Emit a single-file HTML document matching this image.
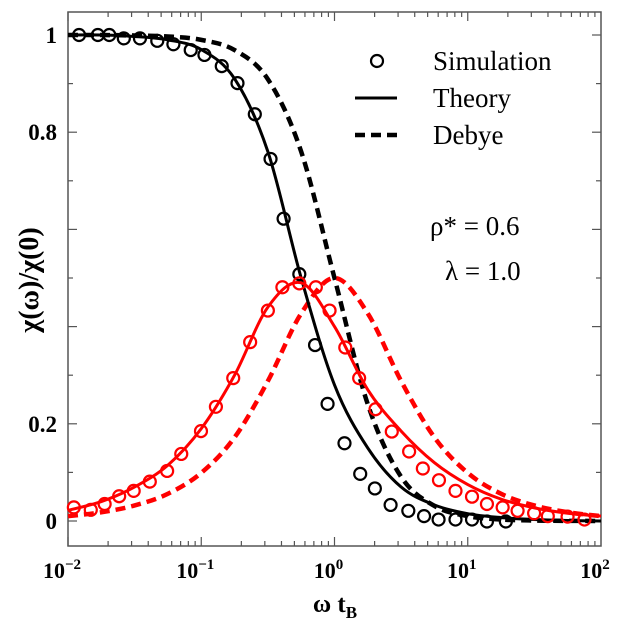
<!DOCTYPE html>
<html><head><meta charset="utf-8"><style>
body{margin:0;background:#fff}
svg{display:block;font-family:"Liberation Serif",serif}
</style></head><body>
<svg id="chart" width="618" height="622"></svg>
<script>
const simBlackLogW=[-1.917,-1.776,-1.690,-1.581,-1.460,-1.330,-1.209,-1.079,-0.976,-0.846,-0.728,-0.598,-0.480,-0.382,-0.264,-0.146,-0.052,0.075,0.193,0.303,0.421,0.554,0.672,0.781,0.908,1.032,1.144,1.286];
const simBlackVal=[1.0,1.0,1.0,0.993,0.993,0.988,0.981,0.969,0.959,0.936,0.901,0.837,0.745,0.622,0.508,0.362,0.241,0.160,0.097,0.067,0.033,0.021,0.010,0.003,0.003,0.003,-0.001,-0.001];
const simRedLogW=[-1.956,-1.829,-1.725,-1.616,-1.507,-1.386,-1.256,-1.150,-1.002,-0.890,-0.760,-0.633,-0.500,-0.391,-0.264,-0.140,-0.037,0.081,0.185,0.308,0.430,0.560,0.663,0.784,0.908,1.032,1.144,1.262,1.374,1.498,1.601,1.749,1.876];
const simRedVal=[0.028,0.023,0.035,0.051,0.062,0.081,0.103,0.138,0.185,0.235,0.294,0.368,0.433,0.481,0.489,0.481,0.433,0.357,0.294,0.230,0.184,0.143,0.108,0.084,0.062,0.050,0.035,0.028,0.021,0.016,0.010,0.009,0.003];
const curveLogW=[-2,-1.75,-1.5,-1.25,-1,-0.75,-0.5,-0.25,0,0.25,0.5,0.75,1,1.25,1.5,1.75,2];
const theoryReal=[1.0,1.0,0.997,0.99,0.97,0.91,0.76,0.50,0.28,0.15,0.07,0.033,0.015,0.007,0.003,0.001,0.0];
const theoryImag=[0.022,0.04,0.07,0.115,0.19,0.30,0.44,0.49,0.40,0.27,0.185,0.12,0.075,0.045,0.027,0.016,0.010];
const debyeReal=[1.0,1.0,0.999,0.997,0.990,0.969,0.909,0.760,0.5,0.240,0.091,0.031,0.010,0.003,0.001,0.0003,0.0001];
const debyeImag=[0.010,0.018,0.032,0.056,0.099,0.172,0.288,0.427,0.5,0.427,0.288,0.172,0.099,0.056,0.032,0.018,0.010];
const xTickLabels=["-2","-1","0","1","2"];
const yTickVals=[0,0.2,0.8,1];

const NS="http://www.w3.org/2000/svg";
const svg=document.getElementById('chart');
const L=68,R=601,T=12,B=546;
const X=lw=>L+(lw+2)/4*(R-L);
const Y=v=>521-v*486;
function el(tag,attrs,parent){const e=document.createElementNS(NS,tag);for(const k in attrs)e.setAttribute(k,attrs[k]);(parent||svg).appendChild(e);return e;}
function path(xs,ys){
  const p=xs.map((x,i)=>[X(x),Y(ys[i])]);
  let d=`M${p[0][0]},${p[0][1]}`;
  for(let i=0;i<p.length-1;i++){
    const p0=p[Math.max(0,i-1)],p1=p[i],p2=p[i+1],p3=p[Math.min(p.length-1,i+2)];
    const c1=[p1[0]+(p2[0]-p0[0])/6,p1[1]+(p2[1]-p0[1])/6];
    const c2=[p2[0]-(p3[0]-p1[0])/6,p2[1]-(p3[1]-p1[1])/6];
    d+=`C${c1[0]},${c1[1]} ${c2[0]},${c2[1]} ${p2[0]},${p2[1]}`;
  }
  return d;
}
const fr=el('rect',{x:L,y:T,width:R-L,height:B-T,fill:'none',stroke:'#555','stroke-width':1.5});


const tg=el('g',{stroke:'#555','stroke-width':1.2});


for(let d=-2;d<2;d++){for(let m=1;m<10;m++){const x=X(d+Math.log10(m));const len=m===1?9:5;
  el('line',{x1:x,y1:B,x2:x,y2:B-len},tg);el('line',{x1:x,y1:T,x2:x,y2:T+len},tg);}}
for(let v=-0.0;v<=1.01;v+=0.1){const y=Y(v);const maj=Math.round(v*10)%2===0;const len=maj?9:5;
  el('line',{x1:L,y1:y,x2:L+len,y2:y},tg);el('line',{x1:R,y1:y,x2:R-len,y2:y},tg);}
xTickLabels.forEach((t,i)=>{const tx=el('text',{x:X(+t)-6,y:578,'font-size':22,'font-weight':'bold','text-anchor':'middle'});
  
  
  tx.innerHTML=`10<tspan dy="-9" font-size="15">${t.replace('-','−')}</tspan>`;});
yTickVals.forEach(v=>{const tx=el('text',{x:57,y:Y(v)+8,'font-size':23,'font-weight':'bold','text-anchor':'end'});
  
  
  tx.textContent=String(v);});
const xt=el('text',{x:335,y:612,'font-size':25,'font-weight':'bold','text-anchor':'middle'});


xt.innerHTML='ω t<tspan dy="6" font-size="17">B</tspan>';
const yt=el('text',{x:0,y:0,'font-size':28,'font-weight':'bold','text-anchor':'middle',transform:'translate(38,280) rotate(-90)'});


yt.textContent='χ(ω)/χ(0)';
function curve(xs,ys,color,dash,name){const p=el('path',{d:path(xs,ys),fill:'none',stroke:color,'stroke-width':dash?4.5:3,'stroke-dasharray':dash?'10,6':'none'});
  
  }
curve(curveLogW,debyeReal,'#000',true,'debye-real-line');
curve(curveLogW,debyeImag,'#f00',true,'debye-imag-line');
curve(curveLogW,theoryReal,'#000',false,'theory-real-line');
curve(curveLogW,theoryImag,'#f00',false,'theory-imag-line');
function pts(xs,ys,color,name){xs.forEach((x,i)=>{const c=el('circle',{cx:X(x),cy:Y(ys[i]),r:6,fill:'none',stroke:color,'stroke-width':2.2});
  
  });}
pts(simBlackLogW,simBlackVal,'#000','sim-real-point');
pts(simRedLogW,simRedVal,'#f00','sim-imag-point');
const lg=el('g',{});


el('circle',{cx:377,cy:61,r:6,fill:'none',stroke:'#000','stroke-width':2.2},lg);
el('line',{x1:355,y1:98,x2:397,y2:98,stroke:'#000','stroke-width':3},lg);
el('line',{x1:355,y1:135,x2:397,y2:135,stroke:'#000','stroke-width':4.5,'stroke-dasharray':'10,6'},lg);
[['Simulation',70],['Theory',107],['Debye',144]].forEach(([t,y])=>{const tx=el('text',{x:433,y:y,'font-size':27},lg);tx.textContent=t;});
const a1=el('text',{x:430,y:235,'font-size':27});


a1.textContent='ρ* = 0.6';
const a2=el('text',{x:445,y:280,'font-size':27});


a2.textContent='λ = 1.0';
</script>
</body></html>
